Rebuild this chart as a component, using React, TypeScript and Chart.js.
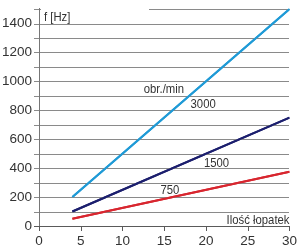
import React, { useEffect, useRef } from "react";
import { Chart, registerables } from "chart.js";

Chart.register(...registerables);

// Blade count (x) and resulting frequency [Hz] for each rotational speed
const bladeCounts = [4, 30];
const freq3000 = [200, 1500];
const freq1500 = [100, 750];
const freq750 = [50, 375];

const seriesColors = ["#1f9ad6", "#1c1f6e", "#d8262f"];

const xTicks = [0, 5, 10, 15, 20, 25, 30];
const yGridValues = [100, 200, 300, 400, 500, 600, 700, 800, 900, 1000, 1100, 1200, 1300, 1400, 1500];
const yLabelStep = 200;

const FONT = "'Liberation Sans', Arial, sans-serif";

type Note = { text: string; x: number; y: number; align: "left" | "right" };

// Text notes placed in data coordinates (blade count, Hz)
const notes: Note[] = [
  { text: "obr./min", x: 12.55, y: 917, align: "left" },
  { text: "3000", x: 18.15, y: 814, align: "left" },
  { text: "1500", x: 19.75, y: 409, align: "left" },
  { text: "750", x: 14.55, y: 221, align: "left" },
  { text: "Ilość łopatek", x: 30, y: 14, align: "right" },
];

const toPoints = (ys: number[]) => bladeCounts.map((x, i) => ({ x, y: ys[i] }));

// condensed text: regular face squeezed horizontally
const drawCondensed = (ctx: CanvasRenderingContext2D, text: string, x: number, y: number, align: "left" | "right") => {
  ctx.save();
  ctx.translate(x, y);
  ctx.scale(0.87, 1);
  ctx.textAlign = align;
  ctx.fillText(text, 0, 0);
  ctx.restore();
};

// Grid, axis lines and tick marks, then the series strokes on top, then the notes
const overlayPlugin = {
  id: "overlay",
  afterDraw(chart: any) {
    const { ctx, scales, chartArea } = chart;
    const xs = scales.x;
    const ys = scales.y;
    const left = Math.round(chartArea.left);
    const right = Math.round(chartArea.right);
    const top = Math.round(chartArea.top);
    const by = Math.round(chartArea.bottom);
    ctx.save();
    ctx.fillStyle = "#8a8a8a";
    for (const v of yGridValues) {
      const py = Math.round(ys.getPixelForValue(v));
      ctx.fillRect(left - 5, py, right - left + 5, 1);
    }
    ctx.fillStyle = "#5a5a5a";
    ctx.fillRect(left - 5, by, right - left + 5, 1);
    ctx.fillStyle = "#777777";
    ctx.fillRect(left, top - 1, 1, by - top + 1);
    ctx.fillStyle = "#5a5a5a";
    for (const v of xTicks) {
      const px = Math.round(xs.getPixelForValue(v));
      ctx.fillRect(px, by, 1, 5);
    }

    // series lines over the grid, positioned through the chart scales
    ctx.lineWidth = 2;
    ctx.lineCap = "butt";
    chart.data.datasets.forEach((ds: any, i: number) => {
      ctx.strokeStyle = seriesColors[i];
      ctx.beginPath();
      ds.data.forEach((p: { x: number; y: number }, j: number) => {
        const px = xs.getPixelForValue(p.x);
        const py = ys.getPixelForValue(p.y);
        if (j === 0) ctx.moveTo(px, py);
        else ctx.lineTo(px, py);
      });
      ctx.stroke();
    });

    // axis caption with a white box over the top grid line
    ctx.fillStyle = "#ffffff";
    ctx.fillRect(left + 2, top - 2, 108, 16);
    ctx.fillStyle = "#333333";
    ctx.font = `13px ${FONT}`;
    ctx.textBaseline = "alphabetic";
    drawCondensed(ctx, "f [Hz]", left + 5, top + 12, "left");
    for (const n of notes) {
      drawCondensed(ctx, n.text, xs.getPixelForValue(n.x), ys.getPixelForValue(n.y), n.align);
    }
    ctx.restore();
  },
};

export default function App() {
  const canvasRef = useRef<HTMLCanvasElement | null>(null);

  useEffect(() => {
    if (!canvasRef.current) return;
    const chart = new Chart(canvasRef.current, {
      type: "line",
      data: {
        datasets: [
          { data: toPoints(freq3000), borderColor: seriesColors[0], borderWidth: 2, pointRadius: 0 },
          { data: toPoints(freq1500), borderColor: seriesColors[1], borderWidth: 2, pointRadius: 0 },
          { data: toPoints(freq750), borderColor: seriesColors[2], borderWidth: 2, pointRadius: 0 },
        ],
      },
      options: {
        animation: false,
        responsive: true,
        maintainAspectRatio: false,
        layout: { padding: { top: 8, right: 10, left: 0, bottom: 0 } },
        plugins: { legend: { display: false }, tooltip: { enabled: false } },
        scales: {
          x: {
            type: "linear",
            min: xTicks[0],
            max: xTicks[xTicks.length - 1],
            afterBuildTicks: (s: any) => {
              s.ticks = xTicks.map((v) => ({ value: v }));
            },
            afterFit: (s: any) => {
              s.height = 26;
            },
            border: { display: false },
            grid: { display: true, drawOnChartArea: false, tickLength: 4, tickColor: "rgba(0,0,0,0)" },
            ticks: {
              padding: 3,
              color: "#333333",
              font: { family: FONT, size: 13.5 },
              maxRotation: 0,
            },
          },
          y: {
            type: "linear",
            min: 0,
            max: 1500,
            afterFit: (s: any) => {
              s.width = 39;
            },
            border: { display: false },
            grid: { display: true, drawOnChartArea: false, tickLength: 6, tickColor: "rgba(0,0,0,0)" },
            ticks: {
              stepSize: 100,
              padding: 1,
              color: "#333333",
              font: { family: FONT, size: 13.5 },
              callback: (v: any) => (Number(v) % yLabelStep === 0 && Number(v) < 1500 ? String(v) : ""),
            },
          },
        },
      },
      plugins: [overlayPlugin],
    });
    return () => chart.destroy();
  }, []);

  return (
    <div style={{ position: "fixed", left: 0, top: 0, width: 300, height: 252, background: "#fff" }}>
      <canvas ref={canvasRef} />
    </div>
  );
}
